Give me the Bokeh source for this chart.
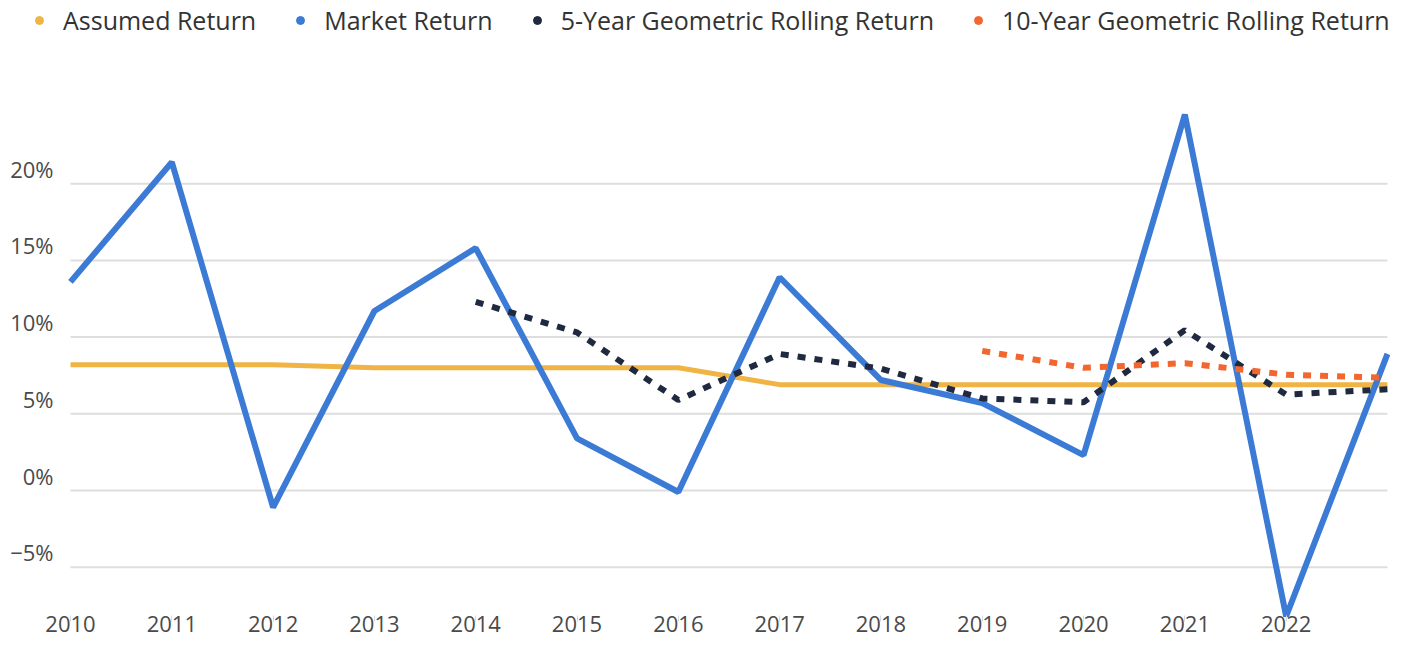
from bokeh.plotting import figure
from bokeh.models import (Legend, LegendItem, FixedTicker, Range1d)
from bokeh.core.properties import value
from bokeh.embed import file_html
from bokeh.resources import INLINE

# ---- data ----
years = list(range(2010, 2024))
tick_years = list(range(2010, 2023))
tick_labels = [str(y) for y in tick_years]
assumed_return = [8.2, 8.2, 8.2, 8.0, 8.0, 8.0, 8.0, 6.9, 6.9, 6.9, 6.9, 6.9, 6.9, 6.9]
market_return = [13.6, 21.4, -1.1, 11.7, 15.8, 3.4, -0.1, 13.9, 7.2, 5.7, 2.3, 24.5, -8.2, 8.9]
five_year_years = list(range(2014, 2024))
five_year_return = [12.3, 10.3, 5.9, 8.9, 7.95, 6.0, 5.75, 10.45, 6.25, 6.6]
ten_year_years = list(range(2019, 2024))
ten_year_return = [9.1, 8.0, 8.3, 7.55, 7.35]
y_ticks = [-5, 0, 5, 10, 15, 20]
y_tick_labels = ["\u22125%", "0%", "5%", "10%", "15%", "20%"]

series_names = ["Assumed Return", "Market Return",
                "5-Year Geometric Rolling Return", "10-Year Geometric Rolling Return"]
colors = ["#F0B445", "#3B7BD6", "#1F2940", "#F1672E"]

FONT = "Open Sans"
LABEL_LIFT = 0.97   # y labels float a little above their gridline
LEFT_PAD = 0.691    # room left of the first year for the y labels / legend
RIGHT_PAD = 0.03

p = figure(width=1390, height=640, output_backend="svg", toolbar_location=None,
           x_range=Range1d(years[0] - LEFT_PAD, years[-1] + RIGHT_PAD),
           y_range=Range1d(-8.54, 31.94),
           min_border_left=0, min_border_right=0, min_border_top=0,
           min_border_bottom=19)
p.outline_line_color = None
p.background_fill_color = "white"
p.border_fill_color = "white"

# grid: horizontal lines spanning the years only
p.xgrid.visible = False
p.ygrid.visible = False
p.segment(x0=[years[0]] * len(y_ticks), x1=[years[-1]] * len(y_ticks),
          y0=y_ticks, y1=y_ticks, line_color="#DEDEDE", line_width=2)

# y tick labels, floating above the gridlines
p.yaxis.visible = False
p.text(x=[years[0]] * len(y_ticks), y=[v + LABEL_LIFT for v in y_ticks],
       text=y_tick_labels, x_offset=-17, text_align="right",
       text_baseline="middle", text_font=value(FONT), text_font_size="22px",
       text_color="#4A4A4A")

# x axis
xa = p.xaxis[0]
xa.ticker = FixedTicker(ticks=tick_years)
xa.major_label_overrides = {y: l for y, l in zip(tick_years, tick_labels)}
xa.axis_line_color = None
xa.major_tick_line_color = "#D8D8D8"
xa.major_tick_line_width = 1
xa.major_tick_in = 6
xa.major_tick_out = 0
xa.minor_tick_line_color = None
xa.major_label_text_font = FONT
xa.major_label_text_font_size = "22px"
xa.major_label_text_color = "#4A4A4A"
xa.major_label_standoff = -6

# lines
p.line(years, assumed_return, line_color=colors[0], line_width=5)
p.line(years, market_return, line_color=colors[1], line_width=6)
p.line(five_year_years, five_year_return, line_color=colors[2], line_width=6,
       line_dash="8 9")
p.line(ten_year_years, ten_year_return, line_color=colors[3], line_width=6,
       line_dash="8 9")

# legend dots (empty point renderers used only for the legend glyphs)
dots = []
for c in colors:
    d = p.scatter(x=[float("nan")], y=[float("nan")], marker="circle", size=11,
                  fill_color=c, line_color=c)
    dots.append(d)

legend = Legend(items=[LegendItem(label=n, renderers=[d]) for n, d in zip(series_names, dots)],
                orientation="horizontal", location=(29, 584),
                label_text_font=FONT, label_text_font_size="25px",
                label_text_color="#333333", glyph_width=20, glyph_height=20,
                label_standoff=14, spacing=34, padding=0, margin=0,
                border_line_color=None, background_fill_alpha=0)
p.add_layout(legend, "center")

open("out.html", "w").write(file_html(p, INLINE))
